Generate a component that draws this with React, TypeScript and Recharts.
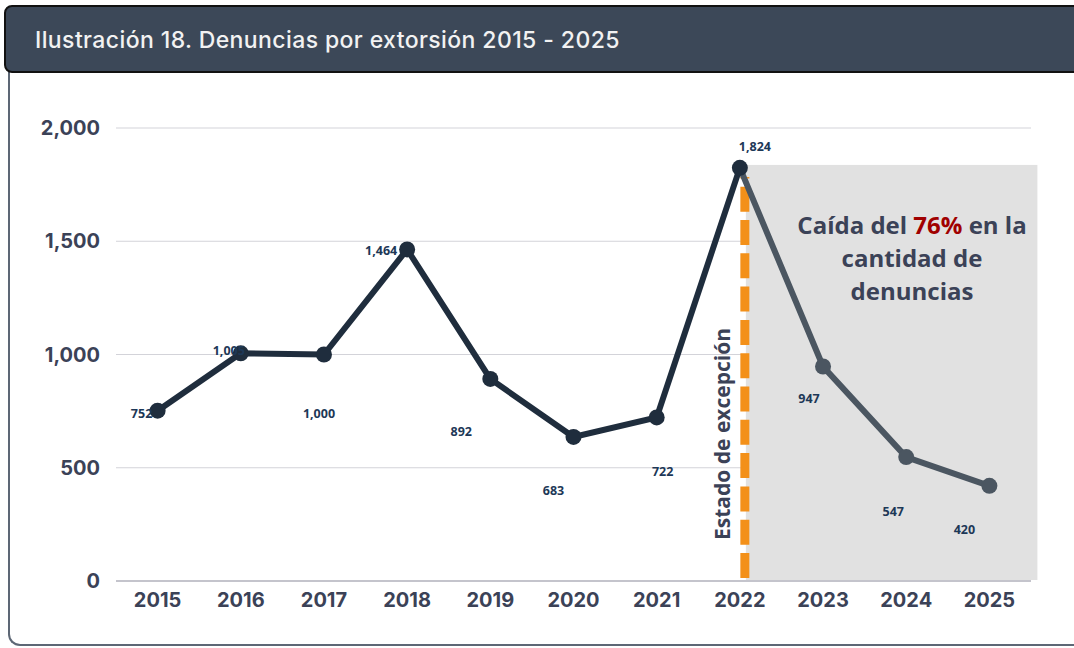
import {
  LineChart,
  Line,
  XAxis,
  YAxis,
  CartesianGrid,
  ReferenceArea,
  ReferenceLine,
  LabelList,
} from "recharts";

// ── Datos ──
const years = ["2015", "2016", "2017", "2018", "2019", "2020", "2021", "2022", "2023", "2024", "2025"];
const denuncias = [752, 1005, 1000, 1464, 892, 636, 722, 1824, 947, 547, 420];
const labelTexts = ["752", "1,005", "1,000", "1,464", "892", "683", "722", "1,824", "947", "547", "420"];
const yTicks = [0, 500, 1000, 1500, 2000];
const splitYear = "2022";

// label placement relative to each point (dx, dy)
const labelOffsets: [number, number][] = [
  [-16, 3], [-12, -3], [-5, 59], [-26, 1], [-29, 53], [-20, 54],
  [6, 54], [15, -21], [-14, 32], [-13, 54], [-25, 44],
];

const splitIdx = years.indexOf(splitYear);
const data = years.map((year, i) => ({
  year,
  value: denuncias[i],
  before: i <= splitIdx ? denuncias[i] : null,
  after: i >= splitIdx ? denuncias[i] : null,
}));

const AXIS_TEXT = "#3b4257";
const DARK = "#1f2d3d";
const GRAY = "#4b5661";

function DataLabel(props: any) {
  const { x, y, index } = props;
  const [dx, dy] = labelOffsets[index];
  return (
    <text
      x={x + dx}
      y={y + dy}
      textAnchor="middle"
      dominantBaseline="central"
      fontFamily="'Open Sans', sans-serif"
      fontWeight={700}
      fontSize={12.5}
      fill="#1d3857"
    >
      {labelTexts[index]}
    </text>
  );
}

function AfterDot(props: any) {
  const { cx, cy, index } = props;
  if (index === splitIdx || cx == null || cy == null) return null;
  return <circle cx={cx} cy={cy} r={8} fill={GRAY} />;
}

export default function App() {
  return (
    <div
      style={{
        position: "absolute",
        left: 0,
        top: 0,
        width: 1074,
        height: 648,
        overflow: "hidden",
        background: "#fff",
      }}
    >
      {/* marco */}
      <div
        style={{
          position: "absolute",
          left: 8,
          top: 50,
          width: 1200,
          height: 594,
          borderLeft: "2px solid #5d6775",
          borderBottom: "2px solid #5d6775",
          borderBottomLeftRadius: 12,
        }}
      />
      {/* título */}
      <div
        style={{
          position: "absolute",
          left: 4,
          top: 5,
          width: 1200,
          height: 68,
          background: "#3c4858",
          border: "2px solid #111",
          borderRadius: 8,
          boxSizing: "border-box",
          color: "#f2f2f2",
          fontFamily: "Inter, sans-serif",
          fontWeight: 500,
          fontSize: 23,
          letterSpacing: 0.4,
          lineHeight: "66px",
          paddingLeft: 29,
        }}
      >
        Ilustración 18. Denuncias por extorsión 2015 - 2025
      </div>

      <div style={{ position: "absolute", left: 0, top: 0 }}>
        <LineChart width={1074} height={648} data={data} margin={{ top: 128, right: 43, bottom: 37, left: 0 }}>
          <ReferenceArea
            x1={splitYear}
            x2="2025"
            y1={0}
            y2={1837}
            ifOverflow="visible"
            shape={(p: any) => (
              <rect x={p.x + 6} y={p.y} width={p.width + 42} height={p.height - 1} fill="#e1e1e1" />
            )}
          />
          <CartesianGrid vertical={false} stroke="#d3d3d9" strokeWidth={1} />
          <XAxis
            dataKey="year"
            padding={{ left: 41.6, right: 41.6 }}
            axisLine={{ stroke: "#c4c4cc", strokeWidth: 2 }}
            tickLine={false}
            tickSize={0}
            tickMargin={12}
            tick={{ fill: AXIS_TEXT, fontSize: 20, fontWeight: 700, fontFamily: "Inter, sans-serif" }}
          />
          <YAxis
            width={116}
            domain={[0, 2000]}
            ticks={yTicks}
            axisLine={false}
            tickLine={false}
            tickSize={0}
            tickMargin={16}
            tickFormatter={(v: number) => v.toLocaleString("en-US")}
            tick={{ fill: AXIS_TEXT, fontSize: 20, fontWeight: 700, fontFamily: "Inter, sans-serif" }}
          />
          <ReferenceLine
            segment={[
              { x: splitYear, y: 0 },
              { x: splitYear, y: 1784 },
            ]}
            ifOverflow="visible"
            shape={(p: any) => (
              <line
                x1={p.x1 + 5}
                y1={p.y1 - 3}
                x2={p.x2 + 5}
                y2={p.y2}
                stroke="#f39019"
                strokeWidth={9}
                strokeDasharray="25 8.3"
              />
            )}
          />
          <Line
            dataKey="value"
            stroke="none"
            dot={false}
            activeDot={false}
            isAnimationActive={false}
          >
            <LabelList dataKey="value" content={DataLabel} />
          </Line>
          <Line
            dataKey="after"
            stroke={GRAY}
            strokeWidth={6}
            dot={AfterDot}
            activeDot={false}
            isAnimationActive={false}
          />
          <Line
            dataKey="before"
            stroke={DARK}
            strokeWidth={6}
            dot={{ r: 8, fill: DARK, stroke: "none" }}
            activeDot={false}
            isAnimationActive={false}
          />
        </LineChart>
      </div>

      {/* anotaciones */}
      <div
        style={{
          position: "absolute",
          left: 722,
          top: 434,
          transform: "translate(-50%, -50%) rotate(-90deg)",
          whiteSpace: "nowrap",
          fontFamily: "'Open Sans', sans-serif",
          fontWeight: 700,
          fontSize: 21,
          color: AXIS_TEXT,
          lineHeight: "24px",
        }}
      >
        Estado de excepción
      </div>
      <div
        style={{
          position: "absolute",
          left: 772,
          top: 208,
          width: 280,
          textAlign: "center",
          fontFamily: "'Open Sans', sans-serif",
          fontWeight: 700,
          fontSize: 24,
          lineHeight: "33px",
          color: AXIS_TEXT,
        }}
      >
        Caída del <span style={{ color: "#a00000" }}>76%</span> en la
        <br />
        cantidad de
        <br />
        denuncias
      </div>
    </div>
  );
}
